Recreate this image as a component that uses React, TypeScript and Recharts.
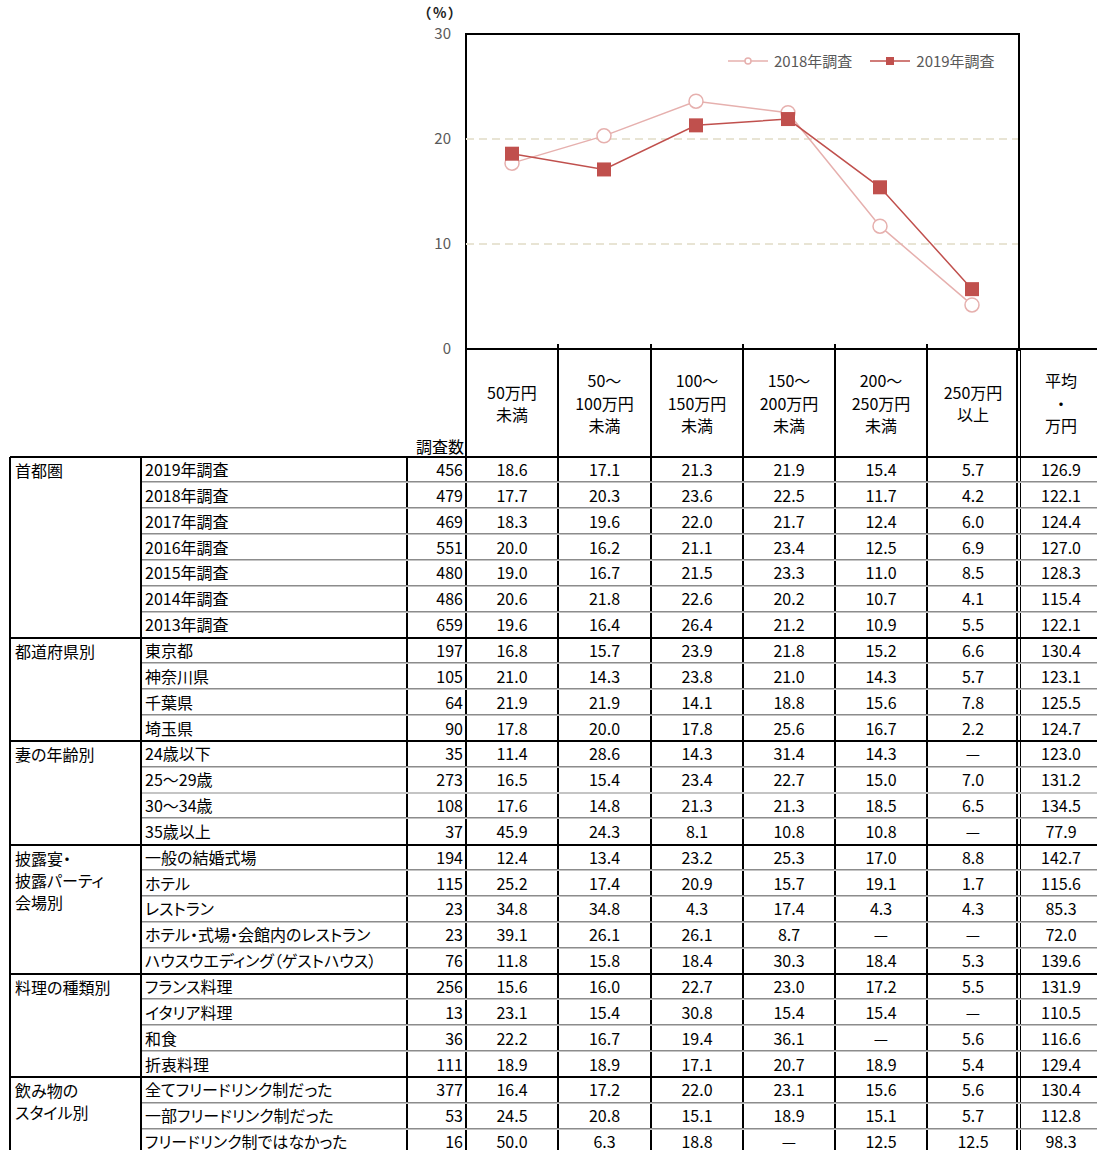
import React from "react"
import { LineChart, Line, XAxis, YAxis, CartesianGrid, Legend } from "recharts"

// chart data
const categories = ["50万円未満", "50～100万円未満", "100～150万円未満", "150～200万円未満", "200～250万円未満", "250万円以上"]
const survey2018 = [17.7, 20.3, 23.6, 22.5, 11.7, 4.2]
const survey2019 = [18.6, 17.1, 21.3, 21.9, 15.4, 5.7]
const yTicks = [0, 10, 20, 30]

// table data
const headerLabels = [
  ["50万円", "未満"],
  ["50～", "100万円", "未満"],
  ["100～", "150万円", "未満"],
  ["150～", "200万円", "未満"],
  ["200～", "250万円", "未満"],
  ["250万円", "以上"],
  ["平均", "・", "万円"],
]

const groupNames = [["首都圏"], ["都道府県別"], ["妻の年齢別"], ["披露宴・", "披露パーティ", "会場別"], ["料理の種類別"], ["飲み物の", "スタイル別"]]
const groupSizes = [7, 4, 4, 5, 4, 3]

const rowLabels = [
  "2019年調査", "2018年調査", "2017年調査", "2016年調査", "2015年調査", "2014年調査", "2013年調査",
  "東京都", "神奈川県", "千葉県", "埼玉県",
  "24歳以下", "25～29歳", "30～34歳", "35歳以上",
  "一般の結婚式場", "ホテル", "レストラン", "ホテル・式場・会館内のレストラン", "ハウスウエディング（ゲストハウス）",
  "フランス料理", "イタリア料理", "和食", "折衷料理",
  "全てフリードリンク制だった", "一部フリードリンク制だった", "フリードリンク制ではなかった",
]

const counts = [456, 479, 469, 551, 480, 486, 659, 197, 105, 64, 90, 35, 273, 108, 37, 194, 115, 23, 23, 76, 256, 13, 36, 111, 377, 53, 16]

// null = "—"
const shares: (number | null)[][] = [
  [18.6, 17.1, 21.3, 21.9, 15.4, 5.7],
  [17.7, 20.3, 23.6, 22.5, 11.7, 4.2],
  [18.3, 19.6, 22.0, 21.7, 12.4, 6.0],
  [20.0, 16.2, 21.1, 23.4, 12.5, 6.9],
  [19.0, 16.7, 21.5, 23.3, 11.0, 8.5],
  [20.6, 21.8, 22.6, 20.2, 10.7, 4.1],
  [19.6, 16.4, 26.4, 21.2, 10.9, 5.5],
  [16.8, 15.7, 23.9, 21.8, 15.2, 6.6],
  [21.0, 14.3, 23.8, 21.0, 14.3, 5.7],
  [21.9, 21.9, 14.1, 18.8, 15.6, 7.8],
  [17.8, 20.0, 17.8, 25.6, 16.7, 2.2],
  [11.4, 28.6, 14.3, 31.4, 14.3, null],
  [16.5, 15.4, 23.4, 22.7, 15.0, 7.0],
  [17.6, 14.8, 21.3, 21.3, 18.5, 6.5],
  [45.9, 24.3, 8.1, 10.8, 10.8, null],
  [12.4, 13.4, 23.2, 25.3, 17.0, 8.8],
  [25.2, 17.4, 20.9, 15.7, 19.1, 1.7],
  [34.8, 34.8, 4.3, 17.4, 4.3, 4.3],
  [39.1, 26.1, 26.1, 8.7, null, null],
  [11.8, 15.8, 18.4, 30.3, 18.4, 5.3],
  [15.6, 16.0, 22.7, 23.0, 17.2, 5.5],
  [23.1, 15.4, 30.8, 15.4, 15.4, null],
  [22.2, 16.7, 19.4, 36.1, null, 5.6],
  [18.9, 18.9, 17.1, 20.7, 18.9, 5.4],
  [16.4, 17.2, 22.0, 23.1, 15.6, 5.6],
  [24.5, 20.8, 15.1, 18.9, 15.1, 5.7],
  [50.0, 6.3, 18.8, null, 12.5, 12.5],
]

const averages = [126.9, 122.1, 124.4, 127.0, 128.3, 115.4, 122.1, 130.4, 123.1, 125.5, 124.7, 123.0, 131.2, 134.5, 77.9, 142.7, 115.6, 85.3, 72.0, 139.6, 131.9, 110.5, 116.6, 129.4, 130.4, 112.8, 98.3]

const chartData = categories.map((name, i) => ({ name, y2018: survey2018[i], y2019: survey2019[i] }))

const PINK = "#e6b0ae"
const RED = "#c0504d"
const FONT = '"Noto Sans CJK JP", "Noto Sans", sans-serif'

// layout
const colX = [10, 141, 407, 466, 558, 651, 743, 835, 927, 1019, 1103]
const HEAD_TOP = 349
const HEAD_BOTTOM = 457
const ROW_H = 25.85

const fmt = (v: number | null) => (v === null ? "—" : v.toFixed(1))

function CircleDot(props: any) {
  const { cx, cy, index } = props
  return <circle key={`c-${index}`} cx={cx} cy={cy} r={7} fill="#fff" stroke={PINK} strokeWidth={1.5} />
}

function SquareDot(props: any) {
  const { cx, cy, index } = props
  return <rect key={`s-${index}`} x={cx - 7} y={cy - 7} width={14} height={14} fill={RED} />
}

function LegendContent() {
  const item = (label: string, color: string, square: boolean) => (
    <div style={{ display: "flex", alignItems: "center", marginRight: 18 }}>
      <svg width={40} height={12} style={{ marginRight: 6 }}>
        <line x1={0} y1={6} x2={40} y2={6} stroke={color} strokeWidth={1.5} />
        {square ? (
          <rect x={16} y={2} width={8} height={8} fill={color} />
        ) : (
          <circle cx={20} cy={6} r={3} fill="#fff" stroke={color} strokeWidth={1.5} />
        )}
      </svg>
      <span>{label}</span>
    </div>
  )
  return (
    <div style={{ display: "flex", fontSize: 15, color: "#595959", fontFamily: FONT, whiteSpace: "nowrap" }}>
      {item("2018年調査", PINK, false)}
      {item("2019年調査", RED, true)}
    </div>
  )
}

const hLine = (key: string, x1: number, x2: number, y: number, color: string, w: number) => (
  <div key={key} style={{ position: "absolute", left: x1, top: y - w / 2, width: x2 - x1, height: w, background: color }} />
)
const vLine = (key: string, x: number, y1: number, y2: number, color: string, w: number) => (
  <div key={key} style={{ position: "absolute", left: x - w / 2, top: y1, width: w, height: y2 - y1, background: color }} />
)

export default function App() {
  const totalRows = rowLabels.length
  const tableBottom = HEAD_BOTTOM + totalRows * ROW_H + 2
  const rowTop = (r: number) => HEAD_BOTTOM + r * ROW_H

  // group start rows
  const groupStarts: number[] = []
  groupSizes.reduce((acc, n) => {
    groupStarts.push(acc)
    return acc + n
  }, 0)

  const lines: React.ReactNode[] = []
  // header verticals (with small tick above baseline)
  for (let c = 3; c <= 8; c++) lines.push(vLine(`hv${c}`, colX[c], HEAD_TOP - 5, HEAD_BOTTOM, "#000", 2))
  lines.push(vLine("dbl1", 1017, HEAD_TOP, tableBottom, "#000", 1.6))
  lines.push(vLine("dbl2", 1020.5, HEAD_TOP, tableBottom, "#000", 1.6))
  // body verticals
  for (let c = 0; c <= 2; c++) lines.push(vLine(`bv${c}`, colX[c], HEAD_BOTTOM, tableBottom, "#000", 2))
  for (let c = 3; c <= 8; c++) lines.push(vLine(`bv${c}`, colX[c], HEAD_BOTTOM, tableBottom, "#000", 2))
  // row separators
  for (let r = 1; r < totalRows; r++) {
    const y = rowTop(r)
    if (groupStarts.includes(r)) {
      lines.push(hLine(`g${r}`, colX[0], 1097, y, "#000", 2))
    } else {
      lines.push(hLine(`ra${r}`, colX[1] + 1, 1097, y - 1, "#8c8c8c", 1))
      lines.push(hLine(`rb${r}`, colX[1] + 1, 1097, y, "#c4c4c4", 1.2))
    }
  }
  lines.push(hLine("hb", colX[0], 1097, HEAD_BOTTOM, "#000", 2))
  lines.push(hLine("ht", colX[3], 1097, HEAD_TOP, "#000", 2))

  const cellText: React.CSSProperties = {
    position: "absolute",
    height: ROW_H,
    lineHeight: `${ROW_H}px`,
    fontSize: 16,
    color: "#000",
    whiteSpace: "nowrap",
  }

  return (
    <div
      style={{
        position: "absolute",
        left: 0,
        top: 0,
        width: 1097,
        height: 1150,
        overflow: "hidden",
        background: "#fff",
        fontFamily: FONT,
        fontFeatureSettings: '"palt"',
      }}
    >
      {/* y unit label */}
      <div
        style={{
          position: "absolute",
          left: 424,
          top: 4,
          fontSize: 14,
          lineHeight: "16px",
          fontWeight: 700,
          color: "#222",
          letterSpacing: 2,
          whiteSpace: "nowrap",
        }}
      >
        （%）
      </div>

      {/* plot frame */}
      <div
        style={{
          position: "absolute",
          left: 465,
          top: 33,
          width: 551,
          height: 316,
          borderLeft: "2px solid #000",
          borderTop: "2px solid #000",
          borderRight: "2px solid #000",
        }}
      />

      <div style={{ position: "absolute", left: 400, top: 0 }}>
        <LineChart width={697} height={360} data={chartData} margin={{ top: 34, right: 79, left: 0, bottom: 11 }}>
          <CartesianGrid vertical={false} stroke="#e8e4d4" strokeDasharray="8 5" strokeWidth={2} horizontalValues={[10, 20]} />
          <XAxis dataKey="name" hide padding={{ left: 46, right: 46 }} />
          <YAxis
            width={66}
            domain={[0, 30]}
            ticks={yTicks}
            axisLine={false}
            tickLine={false}
            tickSize={0}
            tickMargin={15}
            tick={{ fill: "#595959", fontSize: 15, fontFamily: FONT }}
          />
          <Legend
            layout="horizontal"
            verticalAlign="middle"
            align="center"
            content={<LegendContent />}
            wrapperStyle={{ top: 50, left: 328, width: 320, height: 20 }}
          />
          <Line type="linear" dataKey="y2018" stroke={PINK} strokeWidth={1.5} dot={CircleDot} isAnimationActive={false} />
          <Line type="linear" dataKey="y2019" stroke={RED} strokeWidth={1.5} dot={SquareDot} isAnimationActive={false} />
        </LineChart>
      </div>

      {/* header */}
      {headerLabels.map((lbls, i) => {
        const left = i < 6 ? colX[3 + i] : 1021
        const right = i < 6 ? colX[4 + i] : 1101
        return (
          <div
            key={`h${i}`}
            style={{
              position: "absolute",
              left,
              width: right - left,
              top: HEAD_TOP,
              height: HEAD_BOTTOM - HEAD_TOP,
              display: "flex",
              flexDirection: "column",
              justifyContent: "center",
              alignItems: "center",
              fontSize: 16,
              lineHeight: "22.5px",
            }}
          >
            {lbls.map((t) => (
              <div key={t}>{t}</div>
            ))}
          </div>
        )
      })}
      <div style={{ position: "absolute", left: 400, width: 64, top: 435, fontSize: 16, textAlign: "right", lineHeight: "22px" }}>調査数</div>

      {/* group names */}
      {groupNames.map((names, g) => (
        <div
          key={`g${g}`}
          style={{ position: "absolute", left: 15, top: rowTop(groupStarts[g]) + (ROW_H - 22) / 2, fontSize: 16, lineHeight: "22px" }}
        >
          {names.map((t) => (
            <div key={t}>{t}</div>
          ))}
        </div>
      ))}

      {/* rows */}
      {rowLabels.map((label, r) => {
        const top = rowTop(r)
        return (
          <React.Fragment key={`r${r}`}>
            <div style={{ ...cellText, left: 145, top }}>{label}</div>
            <div style={{ ...cellText, left: 407, width: 56, top, textAlign: "right" }}>{counts[r]}</div>
            {shares[r].map((v, c) => (
              <div key={c} style={{ ...cellText, left: colX[3 + c], width: colX[4 + c] - colX[3 + c], top, textAlign: "center" }}>
                {fmt(v)}
              </div>
            ))}
            <div style={{ ...cellText, left: 1021, width: 80, top, textAlign: "center" }}>{averages[r].toFixed(1)}</div>
          </React.Fragment>
        )
      })}

      {lines}
    </div>
  )
}
